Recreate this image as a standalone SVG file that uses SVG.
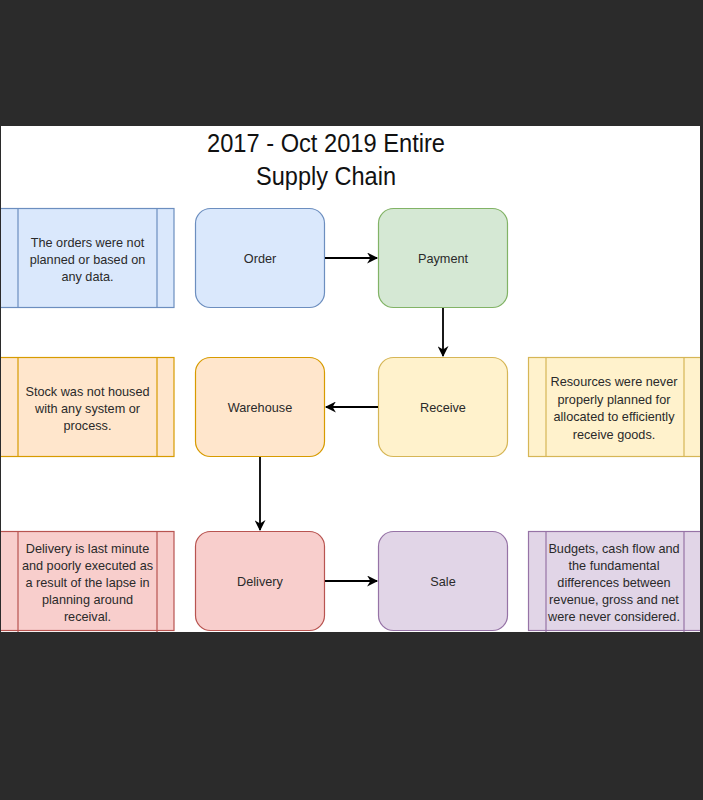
<svg xmlns="http://www.w3.org/2000/svg" width="703" height="800" viewBox="0 0 703 800">
<defs>
<style>
text{font-family:"Liberation Sans",Arial,sans-serif;fill:#2a2a2a;text-anchor:middle}
.lbl{font-size:12.7px}
.title{font-size:25.5px;fill:#111}
.n{stroke-width:1.2}
.conn{stroke:#000;stroke-width:1.8;fill:none;marker-end:url(#ah)}
.blue{fill:#dae8fc;stroke:#6c8ebf}
.green{fill:#d5e8d4;stroke:#82b366}
.yellow{fill:#fff2cc;stroke:#d6b656}
.orange{fill:#ffe6cc;stroke:#d79b00}
.red{fill:#f8cecc;stroke:#b85450}
.purple{fill:#e1d5e7;stroke:#9673a6}
</style>
<marker id="ah" viewBox="0 0 10 10" refX="9" refY="5" markerWidth="12" markerHeight="11" markerUnits="userSpaceOnUse" orient="auto">
<path d="M0,0 L10,5 L0,10 L3,5 Z" fill="#000"/>
</marker>
<clipPath id="page"><rect x="1" y="126" width="699" height="506"/></clipPath>
</defs>
<rect x="0" y="0" width="703" height="800" fill="#2b2b2b"/>
<rect x="1" y="126" width="699" height="506" fill="#ffffff"/>
<g clip-path="url(#page)">
<g id="title">
<text class="title" x="326" y="152" textLength="238" lengthAdjust="spacingAndGlyphs">2017 - Oct 2019 Entire</text>
<text class="title" x="326" y="185" textLength="140" lengthAdjust="spacingAndGlyphs">Supply Chain</text>
</g>
<g id="note-order">
<rect class="blue n" x="0" y="208.5" width="174" height="99"/>
<line class="blue n" x1="18" y1="208.5" x2="18" y2="307.5"/>
<line class="blue n" x1="157" y1="208.5" x2="157" y2="307.5"/>
<text class="lbl" x="87.5" y="246.5">The orders were not</text>
<text class="lbl" x="87.5" y="263.5">planned or based on</text>
<text class="lbl" x="87.5" y="280.5">any data.</text>
</g>
<g id="order">
<rect class="blue n" x="195.5" y="208.5" width="129" height="99" rx="15"/>
<text class="lbl" x="260" y="263">Order</text>
</g>
<g id="payment">
<rect class="green n" x="378.5" y="208.5" width="129" height="99" rx="15"/>
<text class="lbl" x="443" y="263">Payment</text>
</g>
<g id="note-warehouse">
<rect class="orange n" x="0" y="357.5" width="174" height="99"/>
<line class="orange n" x1="18" y1="357.5" x2="18" y2="456.5"/>
<line class="orange n" x1="157" y1="357.5" x2="157" y2="456.5"/>
<text class="lbl" x="87.5" y="395.5">Stock was not housed</text>
<text class="lbl" x="87.5" y="412.5">with any system or</text>
<text class="lbl" x="87.5" y="429.5">process.</text>
</g>
<g id="warehouse">
<rect class="orange n" x="195.5" y="357.5" width="129" height="99" rx="15"/>
<text class="lbl" x="260" y="412">Warehouse</text>
</g>
<g id="receive">
<rect class="yellow n" x="378.5" y="357.5" width="129" height="99" rx="15"/>
<text class="lbl" x="443" y="412">Receive</text>
</g>
<g id="note-receive">
<rect class="yellow n" x="528.5" y="357.5" width="176" height="99"/>
<line class="yellow n" x1="546" y1="357.5" x2="546" y2="456.5"/>
<line class="yellow n" x1="684" y1="357.5" x2="684" y2="456.5"/>
<text class="lbl" x="614" y="386">Resources were never</text>
<text class="lbl" x="614" y="403.5">properly planned for</text>
<text class="lbl" x="614" y="421">allocated to efficiently</text>
<text class="lbl" x="614" y="438.5">receive goods.</text>
</g>
<g id="note-delivery">
<rect class="red n" x="0" y="531.5" width="174" height="99"/>
<line class="red n" x1="18" y1="531.5" x2="18" y2="632"/>
<line class="red n" x1="157" y1="531.5" x2="157" y2="632"/>
<text class="lbl" x="87.5" y="552.5">Delivery is last minute</text>
<text class="lbl" x="87.5" y="569.5">and poorly executed as</text>
<text class="lbl" x="87.5" y="586.5">a result of the lapse in</text>
<text class="lbl" x="87.5" y="604">planning around</text>
<text class="lbl" x="87.5" y="621">receival.</text>
</g>
<g id="delivery">
<rect class="red n" x="195.5" y="531.5" width="129" height="99" rx="15"/>
<text class="lbl" x="260" y="586">Delivery</text>
</g>
<g id="sale">
<rect class="purple n" x="378.5" y="531.5" width="129" height="99" rx="15"/>
<text class="lbl" x="443" y="586">Sale</text>
</g>
<g id="note-sale">
<rect class="purple n" x="528.5" y="531.5" width="176" height="99"/>
<line class="purple n" x1="546" y1="531.5" x2="546" y2="632"/>
<line class="purple n" x1="684" y1="531.5" x2="684" y2="632"/>
<text class="lbl" x="614" y="552.5">Budgets, cash flow and</text>
<text class="lbl" x="614" y="569.5">the fundamental</text>
<text class="lbl" x="614" y="586.5">differences between</text>
<text class="lbl" x="614" y="603.5">revenue, gross and net</text>
<text class="lbl" x="614" y="620.5">were never considered.</text>
</g>
<g id="connectors">
<line class="conn" x1="325" y1="258" x2="377" y2="258"/>
<line class="conn" x1="443" y1="308" x2="443" y2="356"/>
<line class="conn" x1="378" y1="407" x2="326" y2="407"/>
<line class="conn" x1="260" y1="457" x2="260" y2="530"/>
<line class="conn" x1="325" y1="581" x2="377" y2="581"/>
</g>
</g>
</svg>
